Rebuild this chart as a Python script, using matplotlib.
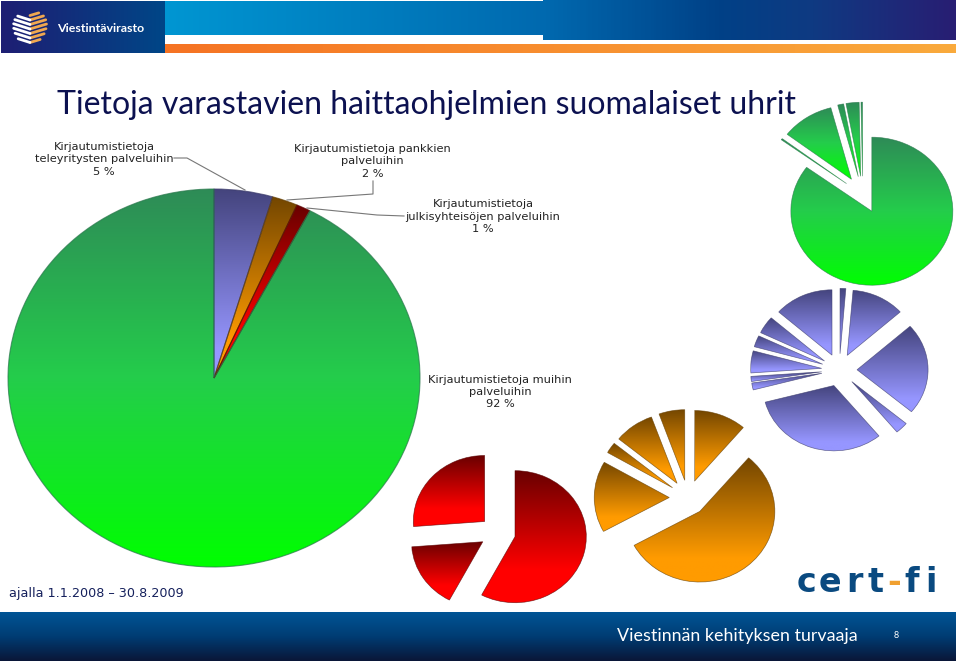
import numpy as np
import matplotlib
matplotlib.use("Agg")
import matplotlib.pyplot as plt
from matplotlib.colors import LinearSegmentedColormap as LSC

# ---------- data ----------
main_values = [4.6, 2.0, 1.1, 92.3]
main_labels = ["Kirjautumistietoja\nteleyritysten palveluihin\n5 %",
               "Kirjautumistietoja pankkien\npalveluihin\n2 %",
               "Kirjautumistietoja\njulkisyhteisöjen palveluihin\n1 %",
               "Kirjautumistietoja muihin\npalveluihin\n92 %"]
green_values = [85.1, 0.3, 10.5, 1.2, 2.6, 0.3]
blue_values = [1.3, 12.0, 22.5, 2.9, 31.6, 1.7, 1.25, 5.4, 2.8, 4.3, 13.4]
orange_values = [11.25, 55.6, 16.25, 2.5, 8.6, 5.55]
red_values = [57.7, 16.0, 26.2]

TITLE = "Tietoja varastavien haittaohjelmien suomalaiset uhrit"
PERIOD = "ajalla 1.1.2008 – 30.8.2009"
FOOTER = "Viestinnän kehityksen turvaaja"

# ---------- styles ----------
W, H = 960, 664
GREEN = [(0, (46, 139, 87)), (0.5, (36, 205, 75)), (1, (0, 255, 0))]
BLUE = [(0, (68, 68, 125)), (0.85, (150, 150, 255)), (1, (150, 150, 255))]
ORANGE = [(0, (115, 70, 0)), (0.8, (255, 155, 0)), (1, (255, 155, 0))]
RED = [(0, (105, 0, 0)), (0.75, (255, 0, 0)), (1, (255, 0, 0))]
TOPBAND = [(0, (0, 150, 210)), (0.48, (0, 105, 175)), (0.70, (0, 65, 135)), (0.82, (15, 58, 130)), (1, (40, 30, 115))]


def cmap(stops):
    return LSC.from_list("g", [(p, tuple(v / 255 for v in c)) for p, c in stops])


fig = plt.figure(figsize=(W / 100, H / 100), dpi=100, facecolor="white")
bg = fig.add_axes([0, 0, 1, 1])
bg.set_xlim(0, W)
bg.set_ylim(H, 0)
bg.axis("off")


def band(x0, x1, y0, y1, stops, vertical=False, u0=0.0, u1=1.0):
    arr = np.linspace(u0, u1, 256)
    arr = arr[:, None] if vertical else arr[None, :]
    bg.imshow(arr, cmap=cmap(stops), extent=(x0, x1, y1, y0), aspect="auto", zorder=1, vmin=0, vmax=1)


# header / footer
band(1, 165, 1, 53, [(0, (30, 30, 115)), (1, (0, 70, 135))])
split = (543 - 165) / (956 - 165)
band(165, 543, 1, 35, TOPBAND, u0=0, u1=split)
band(543, 956, 1, 40.5, TOPBAND, u0=split, u1=1)
band(165, 956, 44, 53, [(0, (245, 115, 35)), (1, (250, 170, 60))])
band(0, 956, 612, 661, [(0, (0, 85, 150)), (0.5, (0, 60, 115)), (1, (10, 22, 55))], vertical=True)
bg.set_xlim(0, W)
bg.set_ylim(H, 0)

# globe logo
for dy in [-14, -9.5, -5, -0.5, 4, 8.5, 13]:
    half = np.sqrt(max(16.5 ** 2 - dy ** 2, 0))
    xs = np.linspace(0, half, 12)
    bg.plot(30 + xs, 29.5 + dy - 0.3 * xs, color="#f0a850", lw=2.0, solid_capstyle="round", zorder=2)
for dy in [-11, -6.5, -2, 2.5, 7, 11.5]:
    half = np.sqrt(max(16.5 ** 2 - dy ** 2, 0))
    xs = np.linspace(0, half, 12)
    bg.plot(30 - xs, 31 + dy - 0.32 * xs, color="white", lw=2.0, solid_capstyle="round", zorder=2)

bg.text(57, 28, "Viestintävirasto", color="white", fontsize=8.9, fontweight="bold", family="Lato", va="center", zorder=3)

# title and notes
bg.text(57, 104.5, TITLE, color="#0c1150", fontsize=23, family="Lato", va="center", zorder=3)
bg.text(9, 594, PERIOD, color="#15205c", fontsize=9.15, family="DejaVu Sans", va="center", zorder=3)
bg.text(617, 635.5, FOOTER, color="white", fontsize=12.9, family="Lato", va="center", zorder=3)
bg.text(896, 636, "8", color="white", fontsize=6.5, family="Lato", ha="center", va="center", zorder=3)

# cert-fi wordmark
for ch, x, col in zip("cert-fi", [806, 830, 854, 876, 894.5, 912, 931],
                      ["#0a4a80"] * 4 + ["#f0a030"] + ["#0a4a80"] * 2):
    bg.text(x, 592, ch, color=col, fontsize=24, fontweight="bold", family="DejaVu Sans", ha="center", va="baseline", zorder=3)

# main pie labels and leader lines
for label, (x, y) in zip(main_labels, [(104, 159.5), (372.5, 161.5), (483, 216.5), (500, 392)]):
    bg.text(x, y, label, color="#222222", fontsize=8.2, family="DejaVu Sans", ha="center", va="center",
            linespacing=1.27, zorder=3)
for xs, ys in [([174, 187, 245], [158, 158, 190]),
               ([373, 373, 287], [181, 194, 200]),
               ([404, 377, 307], [216, 215, 208])]:
    bg.plot(xs, ys, color="#777777", lw=0.8, zorder=2)


def gradient_pie(values, cx, cy, rx, ry, explode, ramps, edge_lw=0.5):
    m = 1.5
    ax = fig.add_axes([(cx - m * rx) / W, 1 - (cy + m * ry) / H, 2 * m * rx / W, 2 * m * ry / H])
    wedges, _ = ax.pie(values, explode=[explode] * len(values), startangle=90, counterclock=False,
                       normalize=True, radius=1)
    ax.set_aspect("auto")
    for w, ramp in zip(wedges, ramps):
        v = w.get_path().vertices
        x0, x1, y0, y1 = v[:, 0].min(), v[:, 0].max(), v[:, 1].min(), v[:, 1].max()
        im = ax.imshow(np.linspace(0, 1, 256)[:, None], cmap=cmap(ramp), extent=(x0, x1, y0, y1),
                       origin="upper", aspect="auto", vmin=0, vmax=1, zorder=1)
        im.set_clip_path(w)
        w.set_facecolor("none")
        w.set_edgecolor(tuple(c / 255 * 0.85 for c in ramp[0][1]) + (0.7,))
        w.set_linewidth(edge_lw)
        w.set_zorder(2)
    ax.set_xlim(-m, m)
    ax.set_ylim(-m, m)
    ax.axis("off")
    ax.patch.set_alpha(0)
    return ax


gradient_pie(main_values, 214, 378, 206, 189, 0, [BLUE, ORANGE, RED, GREEN], edge_lw=0.8)
gradient_pie(green_values, 862.7, 194.7, 81, 74, 0.25, [GREEN] * len(green_values))
gradient_pie(blue_values, 839.3, 370, 71, 65.3, 0.25, [BLUE] * len(blue_values))
gradient_pie(orange_values, 688, 497.7, 75, 70.6, 0.25, [ORANGE] * len(orange_values))
gradient_pie(red_values, 497.7, 532.7, 71.3, 66, 0.25, [RED] * len(red_values))

fig.savefig("out.png", dpi=100, facecolor="white")
